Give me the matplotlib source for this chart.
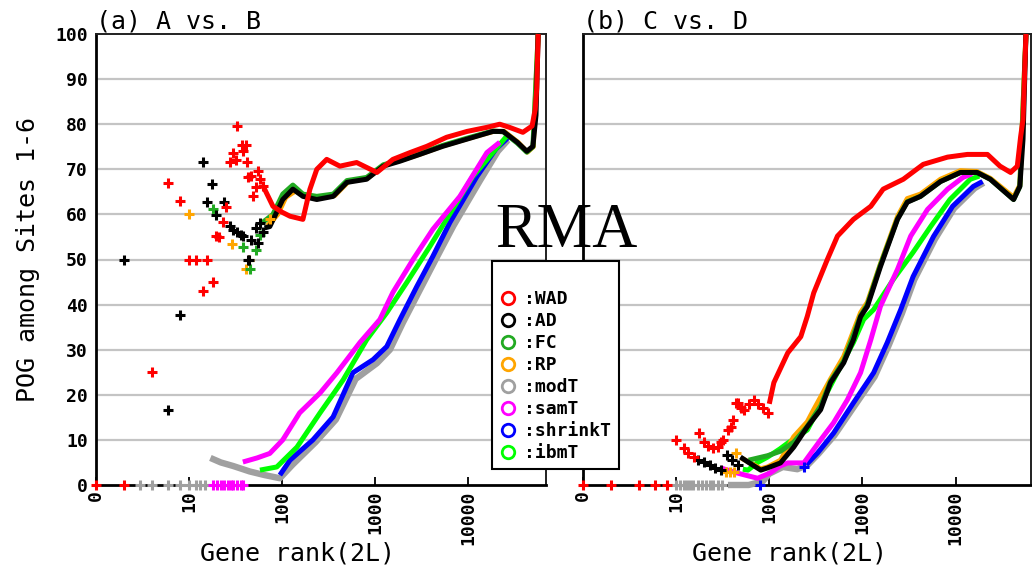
import matplotlib.pyplot as plt
from matplotlib.lines import Line2D

# methods, legend order and colours
methods = ['WAD', 'AD', 'FC', 'RP', 'modT', 'samT', 'shrinkT', 'ibmT']
colors = {'WAD': '#ff0000', 'AD': '#000000', 'FC': '#22aa22', 'RP': '#ffa500',
          'modT': '#a0a0a0', 'samT': '#ff00ff', 'shrinkT': '#0000ff', 'ibmT': '#00ff00'}
draw_order = ['modT', 'shrinkT', 'ibmT', 'samT', 'RP', 'FC', 'AD', 'WAD']

xticks = [1, 10, 100, 1000, 10000]
xtick_labels = ['0', '10', '100', '1000', '10000']
yticks = [0, 10, 20, 30, 40, 50, 60, 70, 80, 90, 100]

# ---------------- panel (a) A vs. B ----------------
# scattered crosses (gene rank, POG %)
a_wad_dot_rank = [1, 2, 4, 6, 8, 10, 12, 14, 15.5, 18, 19.5, 21, 23, 25, 27.7, 29.5, 32, 33, 37, 38, 41, 42, 43, 47, 49, 52, 55, 58, 62]
a_wad_dot_pog = [0, 0, 25, 67, 63, 50, 50, 43, 50, 45, 55.3, 55, 58.4, 61.6, 71.7, 73.7, 72, 79.6, 75.3, 74, 75.3, 71.7, 68.4, 68.6, 64, 66, 69.6, 67.8, 66.2]
a_ad_dot_rank = [2, 6, 8, 14, 15.6, 17.8, 19.5, 23.6, 27.5, 30, 33, 36, 38, 43, 44, 47, 52, 55, 58, 62]
a_ad_dot_pog = [50, 16.7, 37.6, 71.7, 62.8, 66.8, 59.9, 62.8, 57.4, 56.5, 56, 55.5, 55.2, 50, 50, 54.4, 57, 53.7, 58, 56]
a_fc_dot_rank = [18, 38, 45, 53, 58]
a_fc_dot_pog = [61.3, 52.8, 47.9, 52, 55.5]
a_rp_dot_rank = [10, 29, 41, 44, 74]
a_rp_dot_pog = [60, 53.5, 48, 50, 58.9]
a_modt_dot_rank = [3, 4, 6, 8, 10, 12, 13, 15]
a_modt_dot_pog = [0, 0, 0, 0, 0, 0, 0, 0]
a_samt_dot_rank = [18, 20, 22, 24, 26, 28, 30, 33, 36, 38]
a_samt_dot_pog = [0, 0, 0, 0, 0, 0, 0, 0, 0, 0]

# curves
a_wad_rank = [63, 80, 100, 122, 168, 200, 237, 303, 420, 636, 1050, 1560, 2380, 3620, 5900, 9800, 16000, 22000, 28000, 39000, 49000, 53000, 55000, 57000]
a_wad_pog = [66.2, 61.8, 60.5, 59.6, 58.9, 65.6, 70, 72.2, 70.7, 71.5, 69.3, 72.2, 73.7, 75.1, 77.1, 78.4, 79.3, 80, 79.3, 78.2, 79.6, 83.3, 88, 100]
a_ad_rank = [65, 74, 102, 131, 168, 237, 356, 500, 815, 1230, 1860, 3030, 5370, 9800, 18600, 24000, 34000, 43000, 50000, 54000, 57000]
a_ad_pog = [57, 57.3, 63.3, 65.6, 64, 63.3, 64, 67.1, 67.8, 70.7, 71.8, 73.3, 75.1, 76.7, 78.4, 78.4, 76, 74, 75.1, 82, 100]
a_fc_rank = [60, 80, 102, 131, 168, 237, 356, 500, 815, 1230, 1860, 3030, 5370, 9800, 18600, 24000, 34000, 43000, 50000, 57000]
a_fc_pog = [58, 60, 64.5, 66.5, 64.5, 64, 64.5, 67.5, 68.2, 71, 72, 73.5, 75.3, 76.9, 78.5, 78.3, 75.8, 73.8, 75, 100]
a_rp_rank = [70, 90, 110, 140, 180, 250, 370, 520, 830, 1250, 1900, 3100, 5400, 9900, 18800, 24500, 34500, 43500, 50500, 57000]
a_rp_pog = [57.5, 60, 63.8, 65.2, 64.2, 63.6, 64.2, 67.3, 68, 70.9, 72, 73.4, 75.2, 76.8, 78.4, 78.4, 76, 73.8, 75, 100]
a_ibmt_rank = [58, 88, 145, 257, 455, 815, 1340, 2200, 3900, 11300, 26000]
a_ibmt_pog = [3.3, 4, 8.4, 16, 23.3, 32.2, 38.2, 44.9, 52.9, 68.4, 77.3]
a_samt_rank = [38, 54, 74, 102, 155, 257, 390, 690, 1130, 1560, 2570, 4200, 8200, 16000, 22000]
a_samt_pog = [5.1, 6, 7, 10, 16, 20.4, 24.9, 31.6, 36.7, 42.7, 50, 56.7, 64, 73.7, 76]
a_shrinkt_rank = [95, 122, 215, 355, 580, 955, 1340, 1860, 2820, 4200, 6400, 12500, 20000, 27000]
a_shrinkt_pog = [2.2, 5.5, 10, 15.1, 24.9, 27.8, 30.7, 36.7, 44, 50.7, 58.2, 68.4, 74.5, 77]
a_modt_rank = [17, 22, 30, 45, 65, 95, 130, 230, 380, 620, 1050, 1450, 2000, 3000, 4500, 7000, 13500, 21000, 27000]
a_modt_pog = [6, 5, 4.2, 3, 2.2, 1.5, 4.5, 9.5, 14.5, 23.5, 27, 30, 36, 43, 50, 57.5, 67.5, 74, 76.5]

# ---------------- panel (b) C vs. D ----------------
b_wad_dot_rank = [1, 2, 4, 6, 8, 10, 12, 13.5, 15.5, 17.5, 19.8, 22, 24.7, 28, 30, 32, 36, 39, 41, 44, 46, 50, 53, 60, 68, 75, 85, 96]
b_wad_dot_pog = [0, 0, 0, 0, 0, 10, 8.2, 7.1, 6.2, 11.5, 9.6, 8.7, 8.2, 8.4, 9.6, 10, 12.2, 12.9, 14.4, 18.2, 18.2, 17, 16.7, 18, 18.9, 18, 17, 16]
b_ad_dot_rank = [17, 20, 23, 26, 30, 35, 40, 46]
b_ad_dot_pog = [5.6, 5, 4.4, 3.8, 3.3, 6.7, 5.5, 4.4]
b_rp_dot_rank = [34, 38, 42, 44]
b_rp_dot_pog = [2.9, 2.9, 2.9, 7.1]
b_shrinkt_dot_rank = [80, 235]
b_shrinkt_dot_pog = [0, 4]
b_modt_dot_rank = [10, 11, 12, 13, 14, 15, 17, 19, 21, 23, 25, 28, 31]
b_modt_dot_pog = [0, 0, 0, 0, 0, 0, 0, 0, 0, 0, 0, 0, 0]

b_wad_rank = [100, 112, 158, 218, 256, 300, 420, 540, 800, 1230, 1670, 2750, 4500, 8200, 13400, 22000, 30000, 39000, 46000, 50000, 53000, 57000]
b_wad_pog = [18, 22.7, 29.3, 32.9, 37.4, 42.6, 50, 55.2, 58.9, 61.8, 65.6, 67.8, 71.1, 72.7, 73.3, 73.3, 70.7, 69.3, 70.7, 77.3, 81, 100]
b_ad_rank = [49, 60, 81, 96, 132, 183, 256, 356, 455, 630, 800, 955, 1130, 1560, 2380, 3030, 4200, 6900, 11300, 17000, 23600, 42000, 49000, 53000, 57000]
b_ad_pog = [6.2, 5, 3.3, 3.8, 4.9, 8.4, 12.9, 16.7, 22.7, 27.1, 32.2, 37.3, 39.6, 48.4, 58.9, 62.7, 64, 67.3, 69.3, 69.3, 67.8, 63.3, 66.2, 76.7, 100]
b_fc_rank = [60, 96, 132, 183, 256, 356, 455, 630, 955, 1130, 1560, 2380, 3030, 4200, 6900, 11300, 17000, 23600, 42000, 49000, 57000]
b_fc_pog = [5.5, 6.5, 7.5, 9.5, 13, 17.5, 23, 27.5, 37.5, 40, 48.8, 59, 62.8, 64, 67.3, 69.3, 69.3, 67.8, 63.3, 66.2, 100]
b_rp_rank = [50, 81, 96, 132, 183, 256, 300, 455, 630, 955, 1130, 1560, 2380, 3030, 4200, 6900, 11300, 17000, 23600, 42000, 49000, 57000]
b_rp_pog = [6, 3.6, 4, 5.5, 10.7, 14, 16.7, 23.5, 28.5, 38.2, 40.5, 49, 59.5, 63.5, 64.5, 67.8, 69.7, 69.5, 68, 63.8, 66.5, 100]
b_ibmt_rank = [52, 59, 75, 96, 130, 158, 256, 380, 580, 800, 1030, 1320, 2150, 3500, 5400, 8700, 14400, 18000]
b_ibmt_pog = [3.5, 3.3, 5, 6.2, 8, 9.3, 12.2, 18.9, 26.2, 31.6, 36.7, 38.9, 45.6, 51.6, 57.3, 63.3, 67.8, 68.5]
b_samt_rank = [30, 41, 55, 75, 103, 130, 158, 235, 290, 356, 490, 690, 955, 1230, 1560, 2380, 3300, 5000, 8200, 12000, 15000]
b_samt_pog = [3.8, 2.9, 2.2, 1.5, 2.7, 4.2, 4.9, 4.9, 7.5, 10, 13.8, 18.9, 24.9, 32.2, 39.6, 47.8, 55.2, 61.1, 65.6, 68.2, 69]
b_shrinkt_rank = [250, 330, 490, 800, 1320, 1850, 2580, 3500, 5800, 9300, 15500, 19500]
b_shrinkt_pog = [4.5, 7.1, 11.5, 18.2, 24.9, 31.6, 38.9, 46.2, 55.1, 61.8, 66.2, 67.3]
b_modt_rank = [36, 60, 85, 100, 140, 200, 260, 340, 500, 820, 1350, 1900, 2650, 3600, 6000, 9600, 16000, 20000]
b_modt_pog = [0, 0, 0.8, 2.5, 4, 3.5, 4.5, 7, 11, 17.5, 24, 30.8, 38, 45.5, 54.5, 61.3, 65.8, 67]

a_curves = {'WAD': (a_wad_rank, a_wad_pog), 'AD': (a_ad_rank, a_ad_pog), 'FC': (a_fc_rank, a_fc_pog),
            'RP': (a_rp_rank, a_rp_pog), 'modT': (a_modt_rank, a_modt_pog), 'samT': (a_samt_rank, a_samt_pog),
            'shrinkT': (a_shrinkt_rank, a_shrinkt_pog), 'ibmT': (a_ibmt_rank, a_ibmt_pog)}
a_dots = {'WAD': (a_wad_dot_rank, a_wad_dot_pog), 'AD': (a_ad_dot_rank, a_ad_dot_pog),
          'FC': (a_fc_dot_rank, a_fc_dot_pog), 'RP': (a_rp_dot_rank, a_rp_dot_pog),
          'modT': (a_modt_dot_rank, a_modt_dot_pog), 'samT': (a_samt_dot_rank, a_samt_dot_pog)}
b_curves = {'WAD': (b_wad_rank, b_wad_pog), 'AD': (b_ad_rank, b_ad_pog), 'FC': (b_fc_rank, b_fc_pog),
            'RP': (b_rp_rank, b_rp_pog), 'modT': (b_modt_rank, b_modt_pog), 'samT': (b_samt_rank, b_samt_pog),
            'shrinkT': (b_shrinkt_rank, b_shrinkt_pog), 'ibmT': (b_ibmt_rank, b_ibmt_pog)}
b_dots = {'WAD': (b_wad_dot_rank, b_wad_dot_pog), 'AD': (b_ad_dot_rank, b_ad_dot_pog),
          'RP': (b_rp_dot_rank, b_rp_dot_pog), 'modT': (b_modt_dot_rank, b_modt_dot_pog),
          'shrinkT': (b_shrinkt_dot_rank, b_shrinkt_dot_pog)}

mono = 'DejaVu Sans Mono'

fig = plt.figure(figsize=(10.32, 5.72), dpi=100)
ax_a = fig.add_axes([96 / 1032, 87 / 572, 450 / 1032, 451 / 572])
ax_b = fig.add_axes([583 / 1032, 87 / 572, 448 / 1032, 451 / 572])


def draw_panel(ax, curves, dots, title, xmax, xlab_x):
    for m in draw_order:
        if m in curves:
            r, p = curves[m]
            lw = 4.6 if m == 'modT' else 3.6
            ax.plot(r, p, color=colors[m], lw=lw, solid_capstyle='butt', zorder=3, clip_on=False)
        if m in dots:
            r, p = dots[m]
            ax.plot(r, p, ls='none', marker='+', ms=7, mew=2.2, color=colors[m], zorder=4, clip_on=False)
    ax.set_xscale('log')
    ax.set_xlim(1, xmax)
    ax.set_ylim(0, 100)
    ax.set_xticks(xticks)
    ax.set_xticklabels(xtick_labels, rotation=90, fontfamily=mono, fontweight='bold', fontsize=13)
    ax.minorticks_off()
    ax.tick_params(axis='x', direction='in', length=6, width=1.3, pad=4)
    ax.set_yticks(yticks)
    ax.tick_params(axis='y', length=0, pad=6)
    for yv in yticks[1:-1]:
        ax.axhline(yv, color='#c4c4c4', lw=1.6, zorder=1)
    for s in ax.spines.values():
        s.set_linewidth(1.4)
        s.set_color('#202020')
    ax.spines['left'].set_linewidth(2)
    ax.spines['bottom'].set_linewidth(2)
    ax.spines['left'].set_color('black')
    ax.spines['bottom'].set_color('black')
    ax.set_title(title, loc='left', fontfamily=mono, fontsize=18, pad=3)
    ax.set_xlabel('Gene rank(2L)', fontfamily=mono, fontsize=18)
    ax.xaxis.set_label_coords(xlab_x, -0.125)


draw_panel(ax_a, a_curves, a_dots, '(a) A vs. B', 10 ** 4.84, 0.447)
draw_panel(ax_b, b_curves, b_dots, '(b) C vs. D', 10 ** 4.81, 0.462)

ax_a.set_yticklabels([str(v) for v in yticks], fontfamily=mono, fontweight='bold', fontsize=13)
ax_b.set_yticklabels([])
ax_a.set_ylabel('POG among Sites 1-6', fontfamily=mono, fontsize=18)
ax_a.yaxis.set_label_coords(-0.125, 0.5)

# legend with a blank first row
handles = [Line2D([], [], ls='none', marker='none', label=' ')]
for m in methods:
    handles.append(Line2D([], [], ls='none', marker='o', ms=9, mfc='none', mew=2,
                          mec=colors[m], label=':' + m))
leg = fig.legend(handles=handles, loc='upper left', bbox_to_anchor=(492 / 1032, 1 - 261 / 572),
                 prop={'family': mono, 'weight': 'bold', 'size': 13}, fancybox=False,
                 framealpha=1, edgecolor='black', handlelength=1.0, handletextpad=0.4,
                 labelspacing=0.22, borderpad=0.4, borderaxespad=0)
leg.get_frame().set_linewidth(1.5)

fig.text(566 / 1032, 1 - 232 / 572, 'RMA', fontfamily='Liberation Serif', fontsize=45,
         ha='center', va='center')

fig.savefig('out.png', dpi=100)
